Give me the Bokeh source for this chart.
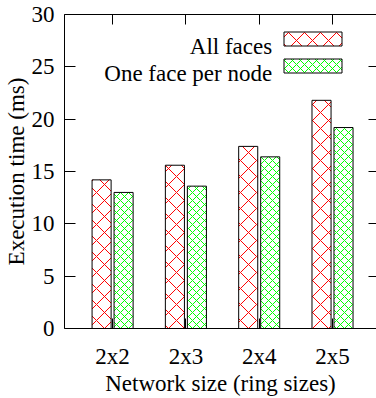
from bokeh.plotting import figure
from bokeh.models import (ColumnDataSource, Range1d, FixedTicker, LinearAxis,
                          BoxAnnotation, Label)
from bokeh.transform import dodge
from bokeh.embed import file_html
from bokeh.resources import INLINE

categories = ["2x2", "2x3", "2x4", "2x5"]
all_faces = [14.2, 15.6, 17.4, 21.8]
one_face_per_node = [13.0, 13.6, 16.4, 19.2]
y_ticks = [0, 5, 10, 15, 20, 25, 30]
series_names = ["All faces", "One face per node"]
series_colors = ["#ff0000", "#00ff00"]

FONT = "Liberation Serif"
FS = "23px"

xpos = list(range(1, len(categories) + 1))
src = ColumnDataSource(dict(x=xpos, a=all_faces, b=one_face_per_node))

p = figure(width=376, height=398, output_backend="svg", toolbar_location=None,
           x_range=Range1d(0.344, 4.6), y_range=Range1d(0, 30),
           min_border_left=64, min_border_right=0, min_border_top=14,
           min_border_bottom=70, x_axis_location="below")
p.outline_line_color = None
p.grid.visible = False
p.background_fill_color = "white"
p.border_fill_color = "white"

p.vbar(x=dodge("x", -0.15), top="a", width=0.26, source=src,
       fill_color="white", line_color="black", line_width=1,
       hatch_pattern="x", hatch_color=series_colors[0], hatch_scale=16,
       hatch_weight=1)
p.vbar(x=dodge("x", 0.15), top="b", width=0.26, source=src,
       fill_color="white", line_color="black", line_width=1,
       hatch_pattern="x", hatch_color=series_colors[1], hatch_scale=8,
       hatch_weight=1)

xa = p.xaxis[0]
xa.ticker = FixedTicker(ticks=xpos)
xa.major_label_overrides = {i: c for i, c in zip(xpos, categories)}
xa.axis_label = "Network size (ring sizes)"
ya = p.yaxis[0]
ya.ticker = FixedTicker(ticks=y_ticks)
ya.axis_label = "Execution time (ms)"

for ax in (xa, ya):
    ax.axis_line_color = "black"
    ax.major_tick_line_color = "black"
    ax.minor_tick_line_color = None
    ax.major_tick_out = 0
    ax.major_label_text_font = FONT
    ax.major_label_text_font_size = FS
    ax.major_label_text_color = "black"
    ax.axis_label_text_font = FONT
    ax.axis_label_text_font_size = FS
    ax.axis_label_text_font_style = "normal"
    ax.axis_label_text_color = "black"
xa.major_tick_in = 10
ya.major_tick_in = 11
xa.major_label_standoff = 15
xa.axis_label_standoff = -1
ya.major_label_standoff = 10
ya.axis_label_standoff = 0

top = LinearAxis(ticker=FixedTicker(ticks=xpos), major_tick_in=10,
                 major_tick_out=0, minor_tick_line_color=None,
                 major_label_overrides={i: "" for i in xpos},
                 major_label_text_font_size="0px", major_label_standoff=0,
                 axis_line_color="black")
p.add_layout(top, "above")
right = LinearAxis(ticker=FixedTicker(ticks=y_ticks), major_tick_in=8,
                   major_tick_out=0, minor_tick_line_color=None,
                   major_label_overrides={t: "" for t in y_ticks},
                   major_label_text_font_size="0px", major_label_standoff=0,
                   axis_line_color=None)
p.add_layout(right, "right")

# key (text right-aligned, sample box to its right), positioned in frame px
for i, (name, col) in enumerate(zip(series_names, series_colors)):
    base = 282.5 - 27 * i
    p.add_layout(BoxAnnotation(left=219.5, right=277.5, bottom=base,
                               top=base + 14, left_units="screen",
                               right_units="screen", top_units="screen",
                               bottom_units="screen", fill_color="white",
                               fill_alpha=1, line_color="black", line_width=1,
                               line_alpha=1, hatch_pattern="x",
                               hatch_color=col,
                               hatch_scale=16 if i == 0 else 8,
                               hatch_weight=1, level="overlay"))
    p.add_layout(Label(x=207.7, y=base, x_units="screen", y_units="screen",
                       text=name, text_align="right",
                       text_baseline="alphabetic", text_font=FONT,
                       text_font_size=FS, text_color="black"))

open("out.html", "w").write(file_html(p, INLINE))
